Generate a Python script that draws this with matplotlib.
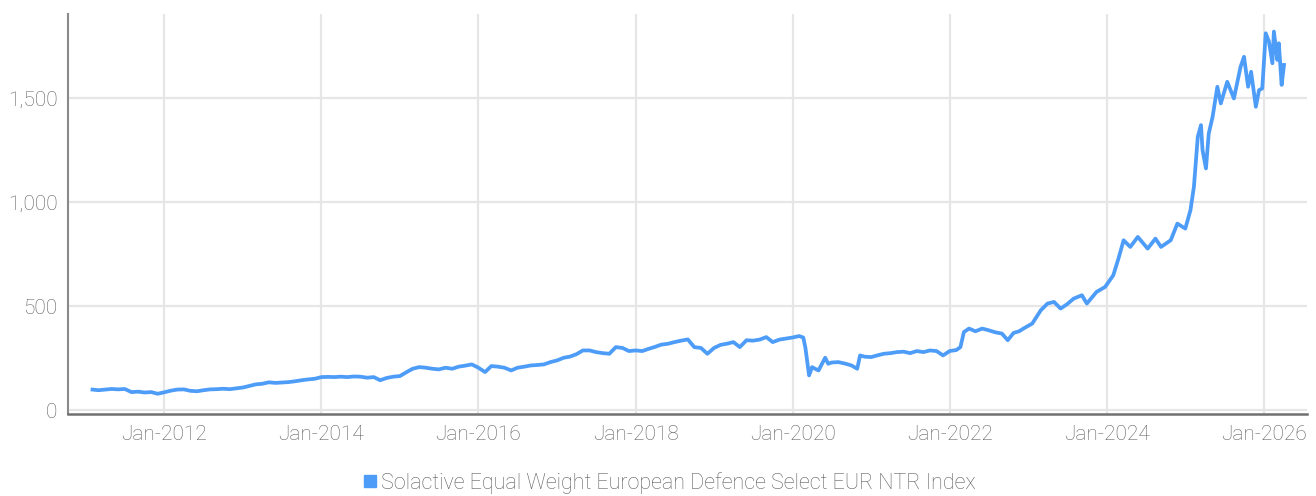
import pandas as pd
import matplotlib.pyplot as plt
import matplotlib.dates as mdates
from matplotlib.ticker import FuncFormatter, FixedLocator
from matplotlib.lines import Line2D

# index levels
dates = [
    "2011-02-01", "2011-03-01", "2011-04-01", "2011-05-01", "2011-06-01", "2011-07-01",
    "2011-08-01", "2011-09-01", "2011-10-01", "2011-11-01", "2011-12-01",
    "2012-01-01", "2012-02-01", "2012-03-01", "2012-04-01", "2012-05-01", "2012-06-01",
    "2012-07-01", "2012-08-01", "2012-09-01", "2012-10-01", "2012-11-01", "2012-12-01",
    "2013-01-01", "2013-02-01", "2013-03-01", "2013-04-01", "2013-05-01", "2013-06-01",
    "2013-07-01", "2013-08-01", "2013-09-01", "2013-10-01", "2013-11-01", "2013-12-01",
    "2014-01-01", "2014-02-01", "2014-03-01", "2014-04-01", "2014-05-01", "2014-06-01",
    "2014-07-01", "2014-08-01", "2014-09-01", "2014-10-01", "2014-11-01", "2014-12-01",
    "2015-01-01", "2015-02-01", "2015-03-01", "2015-04-01", "2015-05-01", "2015-06-01",
    "2015-07-01", "2015-08-01", "2015-09-01", "2015-10-01", "2015-11-01", "2015-12-01",
    "2016-01-01", "2016-02-01", "2016-03-01", "2016-04-01", "2016-05-01", "2016-06-01",
    "2016-07-01", "2016-08-01", "2016-09-01", "2016-10-01", "2016-11-01", "2016-12-01",
    "2017-01-01", "2017-02-01", "2017-03-01", "2017-04-01", "2017-05-01", "2017-06-01",
    "2017-07-01", "2017-08-01", "2017-09-01", "2017-10-01", "2017-11-01", "2017-12-01",
    "2018-01-01", "2018-02-01", "2018-03-01", "2018-04-01", "2018-05-01", "2018-06-01",
    "2018-07-01", "2018-08-01", "2018-09-01", "2018-10-01", "2018-11-01", "2018-12-01",
    "2019-01-01", "2019-02-01", "2019-03-01", "2019-04-01", "2019-05-01", "2019-06-01",
    "2019-07-01", "2019-08-01", "2019-09-01", "2019-10-01", "2019-11-01", "2019-12-01",
    "2020-01-01", "2020-02-01", "2020-02-20", "2020-03-01", "2020-03-18", "2020-04-01",
    "2020-04-15", "2020-05-01", "2020-06-01", "2020-06-15", "2020-07-01", "2020-08-01",
    "2020-09-01", "2020-10-01", "2020-10-28", "2020-11-10", "2020-12-01",
    "2021-01-01", "2021-02-01", "2021-03-01", "2021-04-01", "2021-05-01", "2021-06-01",
    "2021-07-01", "2021-08-01", "2021-09-01", "2021-10-01", "2021-11-01", "2021-12-01",
    "2022-01-01", "2022-02-01", "2022-02-20", "2022-03-08", "2022-04-01", "2022-05-01",
    "2022-06-01", "2022-07-01", "2022-08-01", "2022-09-01", "2022-09-28", "2022-10-25",
    "2022-11-20", "2022-12-10",
    "2023-01-20", "2023-03-01", "2023-04-01", "2023-05-01", "2023-06-01", "2023-07-01",
    "2023-08-01", "2023-09-08", "2023-10-01", "2023-11-15", "2023-12-25",
    "2024-02-01", "2024-02-25", "2024-03-20", "2024-04-20", "2024-05-25", "2024-07-10",
    "2024-08-15", "2024-09-10", "2024-10-25", "2024-11-25",
    "2025-01-01", "2025-01-25", "2025-02-10", "2025-02-28", "2025-03-15", "2025-03-22",
    "2025-04-07", "2025-04-20", "2025-05-08", "2025-05-30", "2025-06-15", "2025-07-15",
    "2025-08-15", "2025-09-15", "2025-10-01", "2025-10-20", "2025-11-03", "2025-11-25",
    "2025-12-10", "2025-12-25",
    "2026-01-10", "2026-01-25", "2026-02-10", "2026-02-17", "2026-03-05", "2026-03-12",
    "2026-03-25", "2026-04-05",
]
values = [
    100, 97, 100, 103, 101, 103,
    88, 90, 86, 88, 80,
    87, 95, 100, 101, 94, 92,
    97, 101, 102, 104, 102, 106,
    110, 118, 125, 128, 135, 132,
    134, 136, 140, 145, 149, 152,
    160, 161, 160, 162, 160, 163,
    162, 157, 160, 145, 156, 162,
    165, 184, 200, 208, 205, 200,
    197, 205, 200, 210, 215, 221,
    205, 184, 213, 210, 205, 192,
    205, 210, 216, 218, 221, 232,
    240, 253, 258, 270, 288, 288,
    280, 275, 272, 304, 300, 285,
    288, 285, 295, 305, 316, 320,
    328, 335, 341, 304, 300, 272,
    300, 315, 320, 328, 304, 337,
    335, 340, 352, 328, 340, 345,
    350, 357, 350, 300, 168, 208,
    200, 192, 253, 224, 230, 232,
    225, 216, 200, 264, 258,
    256, 265, 272, 275, 280, 282,
    275, 285, 280, 288, 285, 264,
    285, 290, 304, 376, 393, 380,
    393, 385, 375, 369, 337, 372,
    380, 393,
    417, 481, 513, 521, 489, 510,
    537, 553, 513, 569, 593,
    649, 729, 817, 785, 833, 777,
    825, 785, 817, 897,
    873, 962, 1074, 1314, 1370, 1250,
    1162, 1330, 1410, 1554, 1474, 1578,
    1498, 1650, 1698, 1554, 1626, 1458,
    1538, 1546,
    1811, 1771, 1667, 1819, 1683, 1763,
    1563, 1659,
]
series_name = "Solactive Equal Weight European Defence Select EUR NTR Index"
y_ticks = [0, 500, 1000, 1500]

line_color = "#4d9cf8"
text_color = "#5f5f5f"
grid_color = "#e6e6e6"

plt.rcParams['font.family'] = ['Roboto', 'DejaVu Sans']

x = pd.to_datetime(dates)

fig = plt.figure(figsize=(13.16, 4.96), dpi=100)
ax = fig.add_axes([0.052, 0.165, 0.941, 0.807])

ax.plot(x, values, color=line_color, linewidth=2.7, solid_joinstyle='round')

ax.set_xlim(pd.Timestamp("2010-10-12"), pd.Timestamp("2026-07-20"))
ax.set_ylim(-18, 1904)

ax.xaxis.set_major_locator(mdates.YearLocator(2))
ax.xaxis.set_major_formatter(mdates.DateFormatter("%b-%Y"))
ax.yaxis.set_major_locator(FixedLocator(y_ticks))
ax.yaxis.set_major_formatter(FuncFormatter(lambda v, p: f"{int(v):,}"))

ax.grid(True, color=grid_color, linewidth=1.6)
ax.set_axisbelow(True)
ax.tick_params(length=0, labelsize=15, labelcolor=text_color, pad=8)
for lab in ax.get_xticklabels() + ax.get_yticklabels():
    lab.set_fontweight('light')

for side in ['top', 'right']:
    ax.spines[side].set_visible(False)
ax.spines['left'].set_color('#8a8a8a')
ax.spines['bottom'].set_color('#707070')
ax.spines['left'].set_linewidth(1.5)
ax.spines['bottom'].set_linewidth(1.8)

handle = Line2D([], [], marker='s', linestyle='none', color=line_color, markersize=9)
leg = fig.legend([handle], [series_name], loc='center', bbox_to_anchor=(0.508, 0.027),
                 frameon=False, handletextpad=0.1, handlelength=0.8,
                 prop={'size': 15.5, 'weight': 'light'})
for t in leg.get_texts():
    t.set_color(text_color)

fig.savefig("out.png", dpi=100)
